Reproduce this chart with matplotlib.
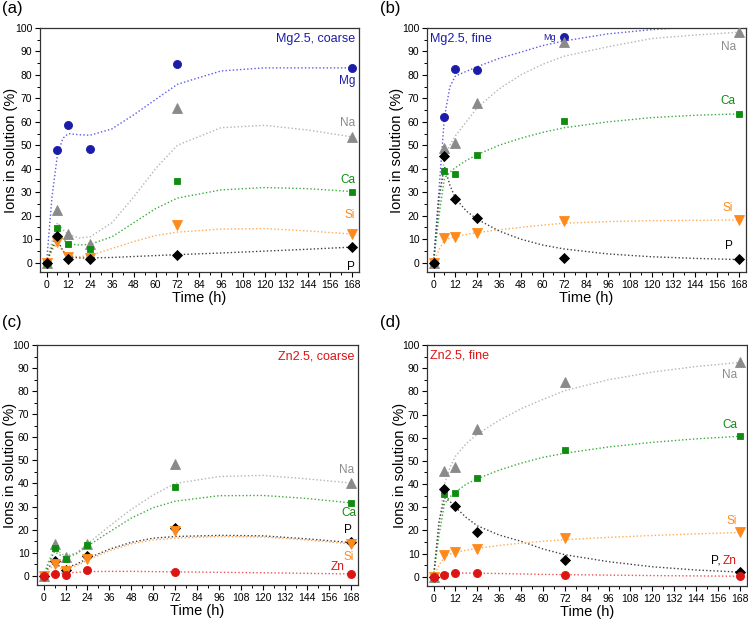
import matplotlib
matplotlib.use("Agg")
import matplotlib.pyplot as plt
from matplotlib.ticker import MultipleLocator

plt.rcParams['font.family'] = ['Liberation Sans', 'DejaVu Sans']

# ---------------- data ----------------
T = [0, 6, 12, 24, 72, 168]
T_FIT = [0, 3, 6, 9, 12, 18, 24, 36, 48, 60, 72, 96, 120, 144, 168]

# (a) Mg2.5, coarse
a_mg = [0, 48.0, 58.7, 48.6, 84.5, 83.0]
a_na = [0, 22.6, 12.1, 8.0, 65.7, 53.6]
a_ca = [0, 14.8, 7.8, 5.8, 34.8, 30.3]
a_si = [0, 8.8, 2.5, 2.0, 16.2, 12.4]
a_p = [0, 11.5, 1.5, 1.5, 3.2, 6.5]
a_mg_fit = [0, 28, 46, 53, 55, 54.5, 54.3, 57, 63, 69.5, 76, 81.7, 83, 83, 83]
a_na_fit = [0, 9, 17, 14, 12, 10.5, 11, 17, 28, 40, 50, 57.5, 58.5, 56.5, 53.6]
a_ca_fit = [0, 7, 13, 10, 8, 7.5, 7.8, 11, 17, 23, 27.5, 31, 32, 31.5, 30.3]
a_si_fit = [0, 5, 8.5, 5, 3, 2.5, 3, 6, 9, 11.5, 13, 14.3, 14.5, 13.5, 12.2]
a_p_fit = [0, 6, 10, 5, 2.5, 2, 2, 2.2, 2.6, 3.0, 3.4, 4.1, 4.9, 5.7, 6.6]

# (b) Mg2.5, fine
b_mg = [0, 62.0, 82.5, 82.0, 96.0, 102.0]
b_na = [0, 49.0, 51.0, 68.0, 94.0, 98.2]
b_ca = [0, 39.0, 37.8, 46.0, 60.4, 63.4]
b_si = [0, 10.5, 11.0, 12.5, 17.8, 18.1]
b_p = [0, 45.3, 27.2, 18.9, 2.0, 1.4]
b_mg_fit = [0, 31, 62, 75, 79.5, 81.5, 83.5, 87, 89.7, 92.5, 94.5, 97.5, 99.3, 100.5, 101]
b_na_fit = [0, 24, 45, 50, 54, 60, 66, 74, 80, 84.5, 88, 92, 95.5, 97, 98.2]
b_ca_fit = [0, 20, 36, 38.5, 40.5, 43.5, 46, 50, 53, 55.5, 57.5, 60, 61.8, 62.8, 63.4]
b_si_fit = [0, 5.5, 9.5, 10.5, 11, 12, 12.8, 14, 15, 16, 16.8, 17.5, 17.9, 18, 18.2]
b_p_fit = [0, 28, 41, 33, 27.5, 22, 18.5, 13.5, 10, 7.5, 5.8, 3.7, 2.5, 1.8, 1.3]

# (c) Zn2.5, coarse
c_zn = [0, 0.8, 0.5, 2.3, 1.6, 0.8]
c_na = [0, 13.9, 8.2, 13.8, 48.5, 40.2]
c_ca = [0, 12.0, 7.2, 13.5, 38.6, 31.6]
c_p = [0, 6.6, 2.5, 8.6, 20.8, 14.5]
c_si = [0, 5.0, 2.0, 7.2, 19.2, 13.8]
c_zn_fit = [0, 0.5, 0.8, 1.0, 1.2, 1.5, 1.8, 1.9, 1.9, 1.8, 1.7, 1.5, 1.3, 1.05, 0.8]
c_na_fit = [0, 7, 12, 10, 8.5, 10, 13.8, 21.5, 28.8, 35, 40, 43, 43.5, 42, 40.2]
c_ca_fit = [0, 6, 10.5, 9, 7.8, 9.5, 12.8, 19, 25, 29.5, 32.3, 34.7, 34.8, 33.5, 31.6]
c_p_fit = [0, 4, 5.5, 4, 3.5, 5, 7.5, 11.5, 14.5, 16.3, 17, 17.5, 17.3, 16, 14.4]
c_si_fit = [0, 3, 4.5, 3.2, 2.8, 4.3, 6.8, 10.8, 13.8, 15.5, 16.3, 17, 16.8, 15.5, 13.8]

# (d) Zn2.5, fine
d_na = [0, 45.6, 47.3, 63.9, 84.0, 92.5]
d_ca = [0, 35.5, 36.2, 42.8, 54.7, 60.6]
d_p = [0, 38.0, 30.5, 19.5, 7.4, 2.0]
d_si = [0, 9.5, 10.8, 12.0, 16.6, 19.1]
d_zn = [0, 0.6, 1.8, 1.4, 0.7, 0.3]
d_na_fit = [0, 22, 40, 47, 52, 57.5, 61.5, 67.5, 72.5, 76.5, 80.3, 85, 88.3, 90.7, 92.5]
d_ca_fit = [0, 18, 31.5, 34.5, 36.5, 40, 42.3, 46, 49, 51.5, 53.3, 56, 58, 59.5, 60.6]
d_p_fit = [0, 24, 34, 32.5, 30, 25.5, 22, 18, 15.3, 12, 9.5, 6.5, 4.3, 2.9, 2.0]
d_si_fit = [0, 5, 8.5, 9.8, 10.5, 11.5, 12.2, 13.5, 14.5, 15.3, 16, 17, 17.8, 18.5, 19.1]
d_zn_fit = [0, 0.8, 1.3, 1.5, 1.6, 1.6, 1.5, 1.4, 1.2, 1.0, 0.9, 0.7, 0.5, 0.35, 0.2]

X_TICKS = [0, 12, 24, 36, 48, 60, 72, 84, 96, 108, 120, 132, 144, 156, 168]

# ---------------- styles ----------------
STY = {
    'Mg': dict(c='#1c1ca8', fit='#5a5ae6', m='o', ms=5.8),
    'Na': dict(c='#8a8a8a', fit='#b4b4b4', m='^', ms=6.5),
    'Ca': dict(c='#108c10', fit='#3caa3c', m='s', ms=5.0),
    'Si': dict(c='#ff8a1c', fit='#ffaa55', m='v', ms=6.5),
    'P':  dict(c='#000000', fit='#404040', m='D', ms=5.3),
    'Zn': dict(c='#dc1414', fit='#f05050', m='o', ms=5.8),
}
TXT = {'Mg': '#1c1ca8', 'Na': '#8c8c8c', 'Ca': '#108c10', 'Si': '#ff8a1c',
       'P': '#000000', 'Zn': '#dc1414'}

W, H = 748, 619
fig = plt.figure(figsize=(W / 100, H / 100), dpi=100)


def axbox(l, r, t, b):
    return [l / W, 1 - b / H, (r - l) / W, (b - t) / H]


def draw(ax, series, ylab_x):
    for ion, y, yf in series:
        s = STY[ion]
        ax.plot(T_FIT, yf, ls=(0, (1, 1.6)), lw=1.0, color=s['fit'], zorder=2)
    for ion, y, yf in series:
        s = STY[ion]
        ax.plot(T, y, ls='none', marker=s['m'], ms=s['ms'], color=s['c'],
                markeredgecolor=s['c'], markeredgewidth=0.6, zorder=3)
    ax.set_xlim(-3.6, 172)
    ax.set_ylim(-4, 100)
    ax.set_xticks(X_TICKS)
    ax.xaxis.set_minor_locator(MultipleLocator(6))
    ax.yaxis.set_major_locator(MultipleLocator(10))
    ax.yaxis.set_minor_locator(MultipleLocator(5))
    ax.tick_params(which='major', direction='out', length=3.5, width=0.8,
                   labelsize=7.5, pad=2)
    ax.tick_params(which='minor', direction='out', length=2, width=0.7)
    for sp in ax.spines.values():
        sp.set_linewidth(0.9)
        sp.set_color('#333333')
    ax.set_xlabel('Time (h)', fontsize=10.5, labelpad=1)
    ax.set_ylabel('Ions in solution (%)', fontsize=10.5)
    ax.yaxis.set_label_coords(ylab_x, 0.5)


def lab(ax, x, y, s, color, ha='right', size=8.5):
    ax.text(x, y, s, color=color, ha=ha, va='center', fontsize=size)


# (a)
ax = fig.add_axes(axbox(40, 359, 28, 272))
draw(ax, [('Mg', a_mg, a_mg_fit), ('Na', a_na, a_na_fit), ('Ca', a_ca, a_ca_fit),
          ('Si', a_si, a_si_fit), ('P', a_p, a_p_fit)], -0.070)
lab(ax, 170, 95.3, 'Mg2.5, coarse', TXT['Mg'], size=9)
lab(ax, 170, 77.3, 'Mg', TXT['Mg'])
lab(ax, 170, 59.3, 'Na', TXT['Na'])
lab(ax, 170, 35.3, 'Ca', TXT['Ca'])
lab(ax, 170, 20.3, 'Si', TXT['Si'])
lab(ax, 170, -2.0, 'P', TXT['P'])

# (b)
ax = fig.add_axes(axbox(427, 746, 28, 272))
draw(ax, [('Mg', b_mg, b_mg_fit), ('Na', b_na, b_na_fit), ('Ca', b_ca, b_ca_fit),
          ('Si', b_si, b_si_fit), ('P', b_p, b_p_fit)], -0.072)
lab(ax, -1.8, 95.3, 'Mg2.5, fine', TXT['Mg'], ha='left', size=9)
lab(ax, 67.5, 95.8, 'Mg', TXT['Mg'], size=6.5)
lab(ax, 166.7, 91.7, 'Na', TXT['Na'])
lab(ax, 166, 68.7, 'Ca', TXT['Ca'])
lab(ax, 164.5, 23.1, 'Si', TXT['Si'])
lab(ax, 164.5, 7.2, 'P', TXT['P'])

# (c)
ax = fig.add_axes(axbox(37, 358, 345, 585))
draw(ax, [('Na', c_na, c_na_fit), ('Ca', c_ca, c_ca_fit), ('P', c_p, c_p_fit),
          ('Si', c_si, c_si_fit), ('Zn', c_zn, c_zn_fit)], -0.062)
lab(ax, 170, 95.1, 'Zn2.5, coarse', TXT['Zn'], size=9)
lab(ax, 170, 45.9, 'Na', TXT['Na'])
lab(ax, 171, 27.4, 'Ca', TXT['Ca'])
lab(ax, 168.7, 20.0, 'P', TXT['P'])
lab(ax, 170, 8.3, 'Si', TXT['Si'])
lab(ax, 164.7, 3.7, 'Zn', TXT['Zn'])

# (d)
ax = fig.add_axes(axbox(427, 747, 345, 586))
draw(ax, [('Na', d_na, d_na_fit), ('Ca', d_ca, d_ca_fit), ('P', d_p, d_p_fit),
          ('Si', d_si, d_si_fit), ('Zn', d_zn, d_zn_fit)], -0.0625)
lab(ax, -1.8, 95.3, 'Zn2.5, fine', TXT['Zn'], ha='left', size=9)
lab(ax, 166.5, 87.1, 'Na', TXT['Na'])
lab(ax, 166.5, 65.3, 'Ca', TXT['Ca'])
lab(ax, 166.5, 23.9, 'Si', TXT['Si'])
lab(ax, 157.5, 7.0, 'P,', TXT['P'])
lab(ax, 166.0, 7.0, 'Zn', TXT['Zn'])

# panel letters
for x, y, s in [(2, 9, '(a)'), (380, 9, '(b)'), (2, 323, '(c)'), (380, 323, '(d)')]:
    fig.text(x / W, 1 - y / H, s, fontsize=12, ha='left', va='center')

fig.savefig('out.png', dpi=100)
